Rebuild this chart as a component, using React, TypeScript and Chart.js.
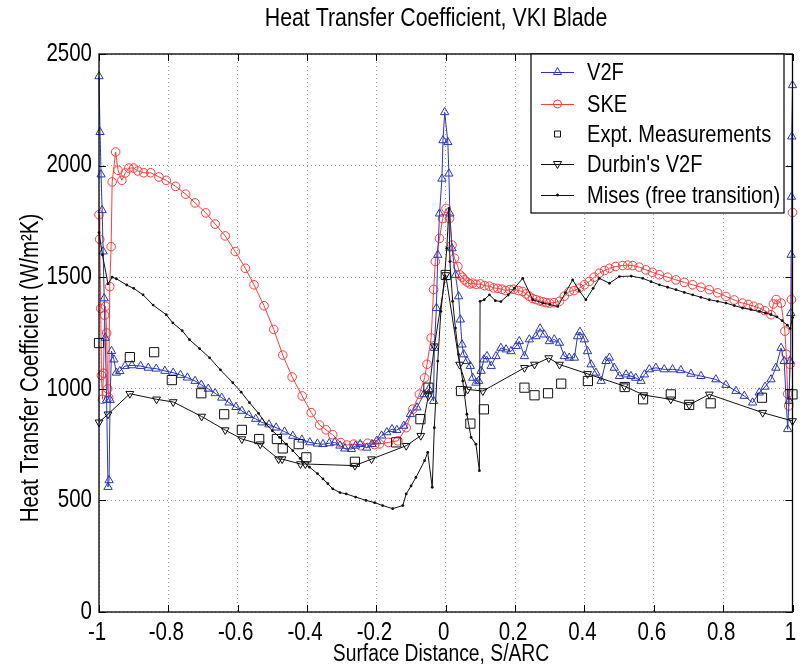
import React, { useEffect, useRef } from 'react';
import { Chart, registerables } from 'chart.js';
Chart.register(...registerables);

const FONT = '"Liberation Sans", Arial, Helvetica, sans-serif';
const NARROW = 0.82;
const BLUE = '#2a38b8';
const RED = '#ff3c3c';
const BLACK = '#111111';

const TITLE = 'Heat Transfer Coefficient, VKI Blade';
const X_TITLE = 'Surface Distance, S/ARC';
const Y_TITLE = 'Heat Transfer Coefficient (W/m\u00B2K)';
const LEGEND_LABELS = ['V2F', 'SKE', 'Expt. Measurements', "Durbin's V2F", 'Mises (free transition)'];

const X_TICKS = [-1, -0.8, -0.6, -0.4, -0.2, 0, 0.2, 0.4, 0.6, 0.8, 1];
const Y_TICKS = [0, 500, 1000, 1500, 2000, 2500];

const v2fX = [-1.0, -0.997, -0.994, -0.991, -0.988, -0.985, -0.982, -0.978, -0.974, -0.971, -0.968, -0.964, -0.957, -0.95, -0.94, -0.925, -0.905, -0.88, -0.858, -0.835, -0.81, -0.786, -0.765, -0.745, -0.723, -0.705, -0.685, -0.665, -0.646, -0.625, -0.605, -0.588, -0.568, -0.548, -0.53, -0.51, -0.489, -0.465, -0.441, -0.415, -0.392, -0.37, -0.354, -0.336, -0.32, -0.305, -0.291, -0.272, -0.26, -0.247, -0.228, -0.213, -0.199, -0.185, -0.17, -0.155, -0.141, -0.121, -0.102, -0.083, -0.063, -0.049, -0.035, -0.033, -0.027, -0.023, -0.018, -0.011, -0.008, -0.003, 0.006, 0.009, 0.012, 0.018, 0.028, 0.037, 0.042, 0.047, 0.052, 0.061, 0.071, 0.078, 0.087, 0.095, 0.102, 0.11, 0.119, 0.131, 0.145, 0.159, 0.174, 0.188, 0.203, 0.212, 0.227, 0.241, 0.26, 0.272, 0.284, 0.299, 0.313, 0.328, 0.342, 0.356, 0.371, 0.38, 0.387, 0.4, 0.409, 0.419, 0.433, 0.448, 0.462, 0.472, 0.486, 0.501, 0.52, 0.534, 0.548, 0.563, 0.573, 0.587, 0.606, 0.63, 0.654, 0.678, 0.707, 0.736, 0.779, 0.808, 0.837, 0.861, 0.885, 0.904, 0.921, 0.938, 0.952, 0.967, 0.976, 0.986, 0.99, 0.993, 0.995, 0.996, 0.997, 0.998, 1.0];
const v2fY = [2400, 2150, 1960, 1800, 1615, 1405, 1228, 950, 560, 590, 950, 1169, 1131, 1072, 1079, 1102, 1105, 1102, 1094, 1090, 1080, 1072, 1062, 1050, 1035, 1018, 1000, 980, 960, 938, 918, 901, 882, 865, 849, 840, 826, 808, 789, 772, 760, 754, 752, 756, 760, 745, 732, 730, 745, 752, 736, 752, 767, 790, 805, 819, 815, 834, 886, 916, 975, 998, 945, 1183, 1362, 1600, 1785, 1941, 2113, 2239, 2105, 1964, 1785, 1629, 1510, 1414, 1310, 1198, 1154, 1124, 1102, 1049, 1027, 1035, 1080, 1131, 1146, 1102, 1146, 1183, 1176, 1168, 1191, 1213, 1146, 1221, 1235, 1270, 1243, 1213, 1221, 1206, 1146, 1139, 1139, 1235, 1255, 1221, 1168, 1109, 1072, 1035, 1124, 1139, 1094, 1057, 1064, 1057, 1049, 1035, 1064, 1087, 1094, 1087, 1087, 1083, 1067, 1057, 1042, 1017, 990, 968, 938, 983, 1009, 1042, 1094, 1183, 1124, 819, 945, 1124, 1339, 1600, 1860, 2130, 2360];

const skeX = [-1.0, -0.998, -0.995, -0.993, -0.99, -0.987, -0.984, -0.981, -0.978, -0.975, -0.972, -0.969, -0.965, -0.962, -0.952, -0.945, -0.934, -0.924, -0.914, -0.9, -0.888, -0.871, -0.851, -0.827, -0.806, -0.779, -0.75, -0.723, -0.692, -0.665, -0.636, -0.607, -0.578, -0.553, -0.524, -0.496, -0.47, -0.443, -0.414, -0.388, -0.364, -0.345, -0.326, -0.303, -0.285, -0.265, -0.245, -0.225, -0.205, -0.191, -0.165, -0.138, -0.114, -0.095, -0.076, -0.061, -0.054, -0.042, -0.035, -0.03, -0.018, -0.009, 0.001, 0.011, 0.018, 0.025, 0.035, 0.041, 0.048, 0.054, 0.062, 0.07, 0.078, 0.088, 0.1, 0.112, 0.126, 0.138, 0.15, 0.162, 0.172, 0.184, 0.196, 0.21, 0.222, 0.232, 0.24, 0.25, 0.26, 0.27, 0.28, 0.29, 0.299, 0.312, 0.328, 0.342, 0.356, 0.37, 0.385, 0.4, 0.414, 0.428, 0.443, 0.458, 0.472, 0.49, 0.51, 0.525, 0.539, 0.558, 0.577, 0.596, 0.616, 0.64, 0.664, 0.688, 0.712, 0.736, 0.76, 0.784, 0.808, 0.832, 0.856, 0.872, 0.888, 0.904, 0.92, 0.938, 0.945, 0.953, 0.967, 0.978, 0.982, 0.986, 0.989, 0.993, 0.997, 1.0];
const skeY = [1780, 1670, 1360, 1060, 953, 1070, 1330, 1370, 1250, 1000, 960, 1458, 1637, 1927, 2061, 1979, 1934, 1967, 1989, 1989, 1976, 1968, 1968, 1949, 1934, 1907, 1872, 1833, 1788, 1738, 1685, 1615, 1540, 1466, 1372, 1266, 1151, 1053, 968, 893, 838, 816, 794, 759, 748, 752, 745, 756, 750, 753, 760, 767, 826, 909, 976, 1049, 1110, 1228, 1445, 1570, 1674, 1763, 1808, 1763, 1644, 1585, 1548, 1510, 1500, 1488, 1478, 1470, 1473, 1468, 1470, 1462, 1460, 1452, 1450, 1446, 1440, 1444, 1446, 1440, 1436, 1425, 1415, 1405, 1400, 1394, 1390, 1386, 1384, 1386, 1392, 1415, 1436, 1440, 1451, 1466, 1481, 1500, 1518, 1530, 1540, 1548, 1552, 1554, 1552, 1545, 1533, 1522, 1511, 1500, 1488, 1477, 1466, 1455, 1444, 1430, 1414, 1398, 1384, 1378, 1370, 1362, 1350, 1332, 1380, 1400, 1384, 1258, 1155, 977, 923, 1110, 1400, 1790];

const exptX = [-1.0, -0.911, -0.841, -0.79, -0.705, -0.639, -0.588, -0.538, -0.487, -0.47, -0.424, -0.402, -0.262, -0.143, -0.073, -0.05, 0.0, 0.044, 0.071, 0.11, 0.227, 0.256, 0.295, 0.333, 0.41, 0.516, 0.569, 0.649, 0.702, 0.764, 0.912, 1.0];
const exptY = [1205, 1142, 1164, 1039, 980, 886, 816, 775, 775, 733, 752, 693, 673, 760, 864, 1005, 1510, 990, 844, 908, 1005, 971, 980, 1023, 1035, 1008, 953, 975, 928, 935, 960, 975];

const durbinX = [-1.0, -0.974, -0.911, -0.834, -0.786, -0.704, -0.636, -0.588, -0.535, -0.482, -0.472, -0.419, -0.405, -0.262, -0.214, -0.114, -0.072, -0.05, -0.033, 0.0, 0.04, 0.063, 0.107, 0.227, 0.256, 0.297, 0.328, 0.409, 0.515, 0.571, 0.649, 0.702, 0.76, 0.914, 1.0];
const durbinY = [850, 886, 978, 953, 941, 876, 815, 775, 752, 685, 685, 663, 663, 656, 685, 745, 790, 968, 1191, 1510, 1109, 997, 990, 1094, 1109, 1138, 1109, 1067, 1012, 972, 953, 928, 975, 893, 856];

const misesX = [-1.0, -0.99, -0.974, -0.962, -0.95, -0.92, -0.9, -0.873, -0.844, -0.806, -0.787, -0.76, -0.739, -0.71, -0.681, -0.65, -0.614, -0.59, -0.566, -0.54, -0.518, -0.5, -0.479, -0.46, -0.441, -0.42, -0.393, -0.37, -0.354, -0.34, -0.326, -0.305, -0.287, -0.26, -0.23, -0.205, -0.182, -0.153, -0.124, -0.114, -0.1, -0.086, -0.061, -0.052, -0.039, -0.033, -0.023, -0.014, -0.004, 0.003, 0.009, 0.012, 0.02, 0.028, 0.037, 0.049, 0.061, 0.073, 0.087, 0.097, 0.099, 0.111, 0.126, 0.143, 0.159, 0.18, 0.198, 0.222, 0.251, 0.28, 0.3, 0.323, 0.345, 0.366, 0.385, 0.404, 0.425, 0.443, 0.472, 0.501, 0.535, 0.568, 0.592, 0.616, 0.64, 0.664, 0.688, 0.712, 0.736, 0.76, 0.784, 0.808, 0.832, 0.856, 0.88, 0.904, 0.922, 0.938, 0.955, 0.97, 0.985, 0.993, 1.0];
const misesY = [1700, 1600, 1470, 1500, 1493, 1465, 1450, 1421, 1375, 1332, 1295, 1260, 1220, 1180, 1139, 1085, 1027, 985, 938, 890, 842, 812, 782, 752, 723, 688, 649, 620, 596, 575, 552, 535, 529, 515, 500, 490, 477, 463, 477, 529, 565, 603, 678, 715, 559, 826, 1124, 1347, 1495, 1629, 1808, 1570, 1392, 1272, 1154, 1035, 886, 782, 752, 633, 1392, 1399, 1421, 1395, 1391, 1420, 1451, 1495, 1399, 1384, 1378, 1369, 1430, 1488, 1440, 1399, 1450, 1495, 1473, 1503, 1505, 1495, 1480, 1466, 1455, 1444, 1432, 1421, 1410, 1399, 1392, 1384, 1373, 1362, 1355, 1347, 1340, 1332, 1322, 1305, 1285, 1270, 1320];

const toPts = (xs: number[], ys: number[]) => xs.map((x, i) => ({ x, y: ys[i] }));

function narrowText(ctx: CanvasRenderingContext2D, s: string, x: number, y: number, size: number, align: CanvasTextAlign, rot = 0) {
  ctx.save();
  ctx.translate(x, y);
  if (rot) ctx.rotate(rot);
  ctx.scale(NARROW, 1);
  ctx.font = `${size}px ${FONT}`;
  ctx.textAlign = align;
  ctx.textBaseline = 'middle';
  ctx.fillStyle = '#000';
  ctx.fillText(s, 0, 0);
  ctx.restore();
}

function drawMarker(ctx: CanvasRenderingContext2D, kind: string, x: number, y: number, color: string) {
  ctx.save();
  ctx.strokeStyle = color;
  ctx.fillStyle = color;
  ctx.lineWidth = 1;
  ctx.beginPath();
  if (kind === 'tri') {
    ctx.moveTo(x, y - 4.5); ctx.lineTo(x + 4, y + 2.5); ctx.lineTo(x - 4, y + 2.5); ctx.closePath(); ctx.stroke();
  } else if (kind === 'dtri') {
    ctx.moveTo(x, y + 4.5); ctx.lineTo(x + 4, y - 2.5); ctx.lineTo(x - 4, y - 2.5); ctx.closePath(); ctx.stroke();
  } else if (kind === 'circ') {
    ctx.arc(x, y, 4, 0, Math.PI * 2); ctx.stroke();
  } else if (kind === 'sq') {
    ctx.rect(x - 3, y - 3, 6, 6); ctx.stroke();
  } else if (kind === 'dot') {
    ctx.arc(x, y, 1.5, 0, Math.PI * 2); ctx.fill();
  }
  ctx.restore();
}

const decor = {
  id: 'decor',
  afterDraw(chart: any) {
    const { ctx, chartArea: a, scales } = chart;
    const xs = scales.x, ys = scales.y;
    ctx.save();
    ctx.strokeStyle = '#000';
    ctx.lineWidth = 1.3;
    ctx.strokeRect(a.left, a.top, a.right - a.left, a.bottom - a.top);
    ctx.lineWidth = 1;
    ctx.beginPath();
    for (const v of X_TICKS) {
      const px = Math.round(xs.getPixelForValue(v)) + 0.5;
      ctx.moveTo(px, a.bottom); ctx.lineTo(px, a.bottom - 7);
      ctx.moveTo(px, a.top); ctx.lineTo(px, a.top + 7);
    }
    for (const v of Y_TICKS) {
      const py = Math.round(ys.getPixelForValue(v)) + 0.5;
      ctx.moveTo(a.left, py); ctx.lineTo(a.left + 7, py);
      ctx.moveTo(a.right, py); ctx.lineTo(a.right - 7, py);
    }
    ctx.stroke();

    for (const v of X_TICKS) {
      narrowText(ctx, String(v), xs.getPixelForValue(v) - 2, 633, 25, 'center');
    }
    for (const v of Y_TICKS) {
      narrowText(ctx, String(v), 92, ys.getPixelForValue(v), 25, 'right');
    }

    narrowText(ctx, TITLE, 436, 19, 26, 'center');
    narrowText(ctx, X_TITLE, 441, 655, 23.5, 'center');
    narrowText(ctx, Y_TITLE, 31, 368, 25, 'center', -Math.PI / 2);

    const lx = 531, ly = a.top, lw = 253, lh = 159;
    ctx.fillStyle = '#fff';
    ctx.fillRect(lx, ly, lw, lh);
    ctx.strokeStyle = '#000';
    ctx.lineWidth = 1.2;
    ctx.strokeRect(lx, ly, lw, lh);
    const rows = [72, 104, 134, 164, 195];
    const colors = [BLUE, RED, BLACK, BLACK, BLACK];
    const kinds = ['tri', 'circ', 'sq', 'dtri', 'dot'];
    const hasLine = [true, true, false, true, true];
    LEGEND_LABELS.forEach((lab, i) => {
      const y = rows[i];
      if (hasLine[i]) {
        ctx.strokeStyle = colors[i];
        ctx.lineWidth = 1;
        ctx.beginPath();
        ctx.moveTo(541, y + 0.5); ctx.lineTo(574, y + 0.5);
        ctx.stroke();
      }
      drawMarker(ctx, kinds[i], 557.5, y, colors[i]);
      narrowText(ctx, lab, 587, y + 1, 24.5, 'left');
    });
    ctx.restore();
  },
};

export default function App() {
  const ref = useRef<HTMLCanvasElement>(null);
  useEffect(() => {
    if (!ref.current) return;
    const hollow = 'rgba(0,0,0,0)';
    const chart = new Chart(ref.current, {
      type: 'scatter',
      data: {
        datasets: [
          { label: 'Mises (free transition)', data: toPts(misesX, misesY), showLine: true, borderColor: BLACK, borderWidth: 1, pointStyle: 'circle', pointRadius: 1.4, pointBackgroundColor: BLACK, pointBorderColor: BLACK, pointBorderWidth: 0, clip: false } as any,
          { label: "Durbin's V2F", data: toPts(durbinX, durbinY), showLine: true, borderColor: BLACK, borderWidth: 1, pointStyle: 'triangle', rotation: 180, pointRadius: 4.5, pointBackgroundColor: hollow, pointBorderColor: BLACK, pointBorderWidth: 1, clip: false } as any,
          { label: 'Expt. Measurements', data: toPts(exptX, exptY), showLine: false, pointStyle: 'rect', pointRadius: 6.5, pointBackgroundColor: hollow, pointBorderColor: BLACK, pointBorderWidth: 1, clip: false } as any,
          { label: 'V2F', data: toPts(v2fX, v2fY), showLine: true, borderColor: BLUE, borderWidth: 1, pointStyle: 'triangle', pointRadius: 4.8, pointBackgroundColor: hollow, pointBorderColor: BLUE, pointBorderWidth: 1, clip: false } as any,
          { label: 'SKE', data: toPts(skeX, skeY), showLine: true, borderColor: RED, borderWidth: 1, pointStyle: 'circle', pointRadius: 4.3, pointBackgroundColor: hollow, pointBorderColor: RED, pointBorderWidth: 1, clip: false } as any,
        ],
      },
      options: {
        animation: false,
        responsive: false,
        devicePixelRatio: 1,
        events: [],
        layout: { padding: { top: 54, right: 7, left: 0, bottom: 0 } },
        plugins: { legend: { display: false }, tooltip: { enabled: false }, title: { display: false } },
        scales: {
          x: {
            type: 'linear',
            min: -1,
            max: 1,
            afterBuildTicks: (s: any) => { s.ticks = X_TICKS.map((v) => ({ value: v })); },
            afterFit: (s: any) => { s.height = 56; },
            ticks: { display: false },
            grid: { color: '#a0a0a0', lineWidth: 1, drawTicks: false },
            border: { display: false, dash: [1, 3] },
          },
          y: {
            type: 'linear',
            min: 0,
            max: 2500,
            afterBuildTicks: (s: any) => { s.ticks = Y_TICKS.map((v) => ({ value: v })); },
            afterFit: (s: any) => { s.width = 99; },
            ticks: { display: false },
            grid: { color: '#a0a0a0', lineWidth: 1, drawTicks: false },
            border: { display: false, dash: [1, 3] },
          },
        },
      },
      plugins: [decor],
    });
    return () => chart.destroy();
  }, []);
  return (
    <div style={{ position: 'fixed', left: 0, top: 0, width: 800, height: 668, background: '#fff' }}>
      <canvas ref={ref} width={800} height={668} style={{ display: 'block' }} />
    </div>
  );
}
